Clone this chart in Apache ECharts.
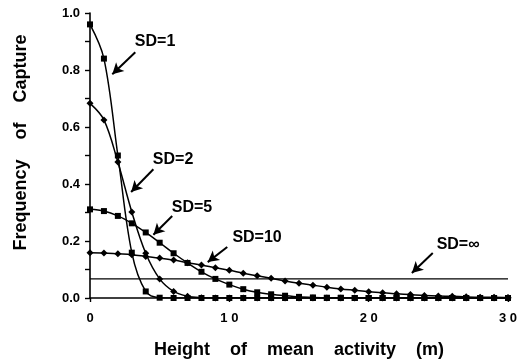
<!DOCTYPE html>
<html>
<head>
<meta charset="utf-8">
<style>
  html, body { margin: 0; padding: 0; background: #fff; }
  #chart { width: 526px; height: 361px; }
</style>
<script src="https://cdn.jsdelivr.net/npm/echarts@6/dist/echarts.min.js"></script>
</head>
<body>
<div id="chart"></div>
<script>
// Mean activity height (m), one sample per metre
const heights = [0, 1, 2, 3, 4, 5, 6, 7, 8, 9, 10, 11, 12, 13, 14, 15, 16, 17, 18, 19, 20, 21, 22, 23, 24, 25, 26, 27, 28, 29, 30];

// Frequency of capture for each spread of activity (SD, m)
const sd1 = [0.96, 0.84, 0.50, 0.159, 0.023, 0.001, 0, 0, 0, 0, 0, 0, 0, 0, 0, 0, 0, 0, 0, 0, 0, 0, 0, 0, 0, 0, 0, 0, 0, 0, 0];
const sd2 = [0.683, 0.625, 0.477, 0.302, 0.157, 0.067, 0.023, 0.006, 0.001, 0, 0, 0, 0, 0, 0, 0, 0, 0, 0, 0, 0, 0, 0, 0, 0, 0, 0, 0, 0, 0, 0];
const sd5 = [0.311, 0.305, 0.288, 0.262, 0.230, 0.194, 0.157, 0.123, 0.092, 0.067, 0.047, 0.031, 0.020, 0.013, 0.008, 0.004, 0.002, 0.001, 0.001, 0, 0, 0, 0, 0, 0, 0, 0, 0, 0, 0, 0];
const sd10 = [0.159, 0.158, 0.155, 0.152, 0.146, 0.140, 0.133, 0.124, 0.116, 0.106, 0.097, 0.087, 0.078, 0.069, 0.060, 0.052, 0.045, 0.038, 0.032, 0.027, 0.022, 0.018, 0.015, 0.012, 0.009, 0.007, 0.006, 0.004, 0.003, 0.003, 0.002];
// Uniform activity: constant frequency over the whole height range
const sdInfLevel = 0.067;
const sdInfExtent = [0, 30];

// Axis ticks
const xTicks = [0, 10, 20, 30];
const yTickLabels = ['0.0', '0.2', '0.4', '0.6', '0.8', '1.0'];

const seriesNames = ['SD=1', 'SD=2', 'SD=5', 'SD=10', 'SD=\u221E'];

const FONT = '"Liberation Sans", Arial, Helvetica, sans-serif';
const INK = '#000';

const pair = (vals) => heights.map((h, i) => [h, vals[i]]);

// Callout text anchor and arrow (tail -> head), in data units
const callouts = {
  'SD=1':  { text: [4.67, 0.898], from: [3.25, 0.862], to: [1.6, 0.785] },
  'SD=2':  { text: [5.96, 0.484], from: [4.55, 0.452], to: [2.95, 0.372] },
  'SD=5':  { text: [7.32, 0.316], from: [5.9, 0.288],  to: [4.55, 0.222] },
  'SD=10': { text: [11.99, 0.211], from: [9.85, 0.179], to: [8.45, 0.126] },
  'SD=\u221E': { text: [26.42, 0.189], from: [24.6, 0.158], to: [23.1, 0.088] }
};

function calloutParts(name) {
  const c = callouts[name];
  return {
    markLine: {
      silent: true,
      animation: false,
      symbol: ['none', 'arrow'],
      symbolSize: [9, 11],
      label: { show: false },
      lineStyle: { color: INK, width: 2, type: 'solid' },
      data: [[{ coord: c.from }, { coord: c.to }]]
    },
    markPoint: {
      silent: true,
      animation: false,
      symbol: 'circle',
      symbolSize: 0,
      label: {
        show: true,
        position: 'inside',
        formatter: name,
        color: INK,
        fontFamily: FONT,
        fontWeight: 'bold',
        fontSize: 16
      },
      data: [{ coord: c.text }]
    }
  };
}

function curve(name, vals, symbol, size) {
  return Object.assign({
    name: name,
    type: 'line',
    data: pair(vals),
    smooth: 0.35,
    symbol: symbol,
    symbolSize: size,
    showAllSymbol: true,
    itemStyle: { color: INK },
    lineStyle: { color: INK, width: 1.5 },
    z: 3
  }, calloutParts(name));
}

const chart = echarts.init(document.getElementById('chart'), null, { renderer: 'canvas' });

chart.setOption({
  animation: false,
  backgroundColor: '#fff',
  textStyle: { fontFamily: FONT },
  grid: { left: 90, right: 18, top: 13, bottom: 63, containLabel: false, outerBoundsMode: 'none' },
  xAxis: {
    type: 'value',
    min: xTicks[0],
    max: xTicks[xTicks.length - 1],
    interval: xTicks[1] - xTicks[0],
    name: 'Height    of    mean    activity    (m)',
    nameLocation: 'middle',
    nameGap: 43,
    nameTextStyle: { color: INK, fontFamily: FONT, fontWeight: 'bold', fontSize: 18 },
    axisLine: { onZero: false, lineStyle: { color: INK, width: 1.6 } },
    axisTick: { show: true, inside: false, length: 4, lineStyle: { color: INK, width: 1.4 } },
    axisLabel: {
      color: INK, fontFamily: FONT, fontWeight: 'bold', fontSize: 13, margin: 14,
      formatter: (v) => String(v).split('').join(' ')
    },
    splitLine: { show: false }
  },
  yAxis: {
    type: 'value',
    min: 0,
    max: 1,
    interval: 0.1,
    name: 'Frequency    of    Capture',
    nameLocation: 'middle',
    nameRotate: 90,
    nameGap: 60,
    nameTextStyle: { color: INK, fontFamily: FONT, fontWeight: 'bold', fontSize: 18, padding: [0, 0, 0, 26] },
    axisLine: { show: true, lineStyle: { color: INK, width: 1.6 } },
    axisTick: { show: true, inside: false, length: 5, lineStyle: { color: INK, width: 1.4 } },
    axisLabel: {
      color: INK, fontFamily: FONT, fontWeight: 'bold', fontSize: 13, margin: 10,
      formatter: (v) => {
        const i = Math.round(v * 10);
        return i % 2 === 0 ? yTickLabels[i / 2] : '';
      }
    },
    splitLine: { show: false }
  },
  series: [
    curve(seriesNames[0], sd1, 'rect', 6),
    curve(seriesNames[1], sd2, 'diamond', 7),
    curve(seriesNames[2], sd5, 'rect', 6),
    curve(seriesNames[3], sd10, 'diamond', 7),
    Object.assign({
      name: seriesNames[4],
      type: 'line',
      data: sdInfExtent.map((h) => [h, sdInfLevel]),
      symbol: 'none',
      lineStyle: { color: INK, width: 1.4 },
      z: 2
    }, calloutParts(seriesNames[4]))
  ]
});
</script>
</body>
</html>
